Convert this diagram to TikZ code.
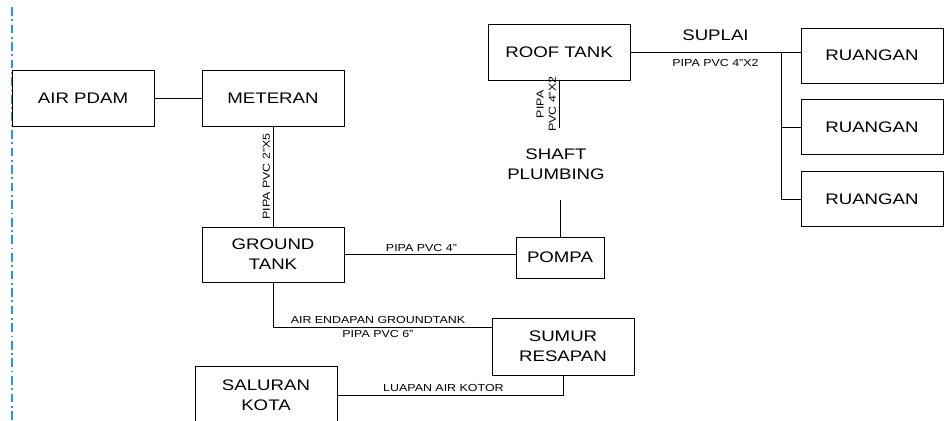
\documentclass[tikz,border=0pt]{standalone}
\usepackage{fontspec}
\setmainfont{Liberation Sans}[FakeStretch=1.22, Ligatures=ResetAll]
\usepackage{tikz}
\usepackage{xcolor}
\usetikzlibrary{positioning}

\newcommand{\boxfont}{\fontsize{8.7}{11.4}\selectfont}
\newcommand{\pipefont}{\fontsize{5.8}{7}\selectfont}
\definecolor{marginblue}{RGB}{40,150,230}

\begin{document}
\begin{tikzpicture}[
x=0.02cm, y=-0.02cm,
node distance=0.32cm,
block/.style={draw, line width=0.5pt, minimum width=2.84cm, minimum height=1.12cm, align=center, font=\boxfont, inner sep=1pt},
pipe/.style={line width=0.5pt},
lbl/.style={font=\pipefont, inner sep=1.5pt, align=center}
]
\clip (0,0) rectangle (944,421);
\draw[marginblue, line width=0.6pt, dash pattern=on 5pt off 2pt on 1pt off 2pt] (12,7) -- (12,421);

\node[block] (pdam) at (83,98) {AIR PDAM};
\node[block] (meteran) at (273,98) {METERAN};
\node[block, minimum height=1.1cm] (ground) at (273,254.5) {GROUND\\TANK};
\node[block, minimum width=1.76cm, minimum height=0.82cm] (pompa) at (560,257.5) {POMPA};
\node[block, minimum height=1.14cm] (sumur) at (563,346.5) {SUMUR\\RESAPAN};
\node[block, minimum height=1.16cm] (saluran) at (266,395) {SALURAN\\KOTA};
\node[block] (roof) at (559,52) {ROOF TANK};
\node[font=\boxfont, align=center, inner ysep=0.4cm] (shaft) at (556,164) {SHAFT\\PLUMBING};
\node[block, minimum height=1.1cm] (r1) at (872,55.5) {RUANGAN};
\node[block, minimum height=1.1cm, below=of r1] (r2) {RUANGAN};
\node[block, minimum height=1.1cm, below=of r2] (r3) {RUANGAN};
\coordinate (tee) at (781,52);

\draw[pipe] (pdam) -- (meteran);
\draw[pipe] (meteran) -- node[lbl, rotate=90, above] {PIPA PVC 2"X5} (ground);
\draw[pipe] (ground.east) -- node[lbl, pos=0.45, above] {PIPA PVC 4"} (ground.east -| pompa.west);
\draw[pipe] (ground.south) |- node[lbl, pos=0.74, above] {AIR ENDAPAN GROUNDTANK} node[lbl, pos=0.74, below] {PIPA PVC 6"} ([yshift=0.39cm]sumur.west);
\draw[pipe] (sumur.south) |- node[lbl, pos=0.765, above] {LUAPAN AIR KOTOR} (saluran.east);
\draw[pipe] (roof.south) -- node[lbl, rotate=90, above] {PIPA\\PVC 4"X2} (roof.south |- shaft.north);
\draw[pipe] (shaft.south -| pompa.north) -- (pompa);
\draw[pipe] (roof.east) -- node[font=\boxfont, above=0.1cm] {SUPLAI} node[lbl, below=0.08cm] {PIPA PVC 4"X2} (roof.east -| r1.west);
\draw[pipe] (tee) |- (r3.west);
\draw[pipe] (tee |- r2.west) -- (r2.west);
\end{tikzpicture}
\end{document}
